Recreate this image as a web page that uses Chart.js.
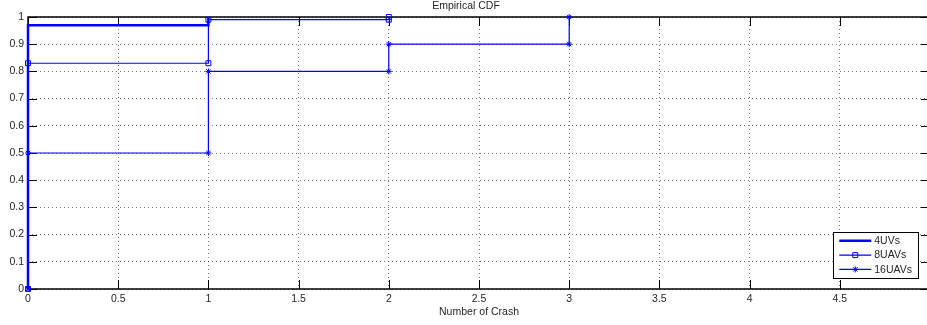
<!DOCTYPE html>
<html>
<head>
<meta charset="utf-8">
<script src="https://cdn.jsdelivr.net/npm/chart.js@4/dist/chart.umd.min.js"></script>
<style>
  html, body { margin: 0; padding: 0; background: #fff; overflow: hidden; }
  #wrap { position: relative; width: 935px; height: 325px; }
</style>
</head>
<body>
<div id="wrap"><canvas id="c" width="935" height="325"></canvas></div>
<script>
// Empirical CDF of the number of crashes, one series per fleet size.
// Each pair: crash counts where the CDF jumps, and the CDF value after the jump.
const crashes4 = [0, 1];
const cdf4 = [0.97, 1];

const crashes8 = [0, 1, 2];
const cdf8 = [0.83, 0.99, 1];

const crashes16 = [0, 1, 2, 3];
const cdf16 = [0.5, 0.8, 0.9, 1];

const seriesNames = ['4UVs', '8UAVs', '16UAVs'];

const xTickValues = [0, 0.5, 1, 1.5, 2, 2.5, 3, 3.5, 4, 4.5];
const yTickValues = [0, 0.1, 0.2, 0.3, 0.4, 0.5, 0.6, 0.7, 0.8, 0.9, 1];

const chartTitle = 'Empirical CDF';
const xTitle = 'Number of Crash';

const FONT = '"Liberation Sans", Arial, Helvetica, sans-serif';
const TEXT = '#262626';
const BLUE = '#0000ff';

// Staircase vertices: rise at each jump, then hold until the next one.
function stairs(xs, fs) {
  const pts = [];
  let prev = 0;
  xs.forEach((x, i) => {
    pts.push({ x: x, y: prev });
    pts.push({ x: x, y: fs[i] });
    prev = fs[i];
  });
  return pts;
}

// Axes box with inward tick marks on all four sides.
const framePlugin = {
  id: 'frame',
  beforeDatasetsDraw(chart) {
    const { ctx, chartArea: a, scales: { x, y } } = chart;
    const len = 9;
    ctx.save();
    ctx.strokeStyle = '#000';
    ctx.lineWidth = 1;
    ctx.beginPath();
    x.ticks.forEach(t => {
      const px = Math.round(x.getPixelForValue(t.value)) + 0.5;
      ctx.moveTo(px, a.bottom); ctx.lineTo(px, a.bottom - len);
      ctx.moveTo(px, a.top); ctx.lineTo(px, a.top + len);
    });
    y.ticks.forEach(t => {
      const py = Math.round(y.getPixelForValue(t.value)) + 0.5;
      ctx.moveTo(a.left, py); ctx.lineTo(a.left + len, py);
      ctx.moveTo(a.right, py); ctx.lineTo(a.right - len, py);
    });
    ctx.stroke();
    ctx.lineWidth = 1.5;
    ctx.strokeRect(a.left, a.top, a.right - a.left, a.bottom - a.top);
    ctx.restore();
  }
};

// Boxed legend in the lower right corner: line sample with marker, then label.
const boxLegendPlugin = {
  id: 'boxLegend',
  afterDraw(chart) {
    const { ctx, chartArea: a } = chart;
    const sets = chart.data.datasets;
    ctx.save();
    ctx.font = '10.5px ' + FONT;
    const textW = Math.max(...sets.map(d => ctx.measureText(d.label).width));
    const pad = 6, sample = 32, gap = 3, rowH = 14.3;
    const w = pad + sample + gap + textW + pad;
    const h = rowH * sets.length + 3;
    const right = 918, bottom = a.bottom - 11;
    const left = right - w, top = bottom - h;
    ctx.fillStyle = '#fff';
    ctx.fillRect(left, top, w, h);
    ctx.strokeStyle = '#000';
    ctx.lineWidth = 1;
    ctx.strokeRect(Math.round(left) + 0.5, Math.round(top) + 0.5, Math.round(w), Math.round(h));
    sets.forEach((d, i) => {
      const cy = top + 8.7 + i * rowH;
      const x0 = left + pad, x1 = x0 + sample;
      ctx.strokeStyle = d.borderColor;
      ctx.lineWidth = d.borderWidth;
      ctx.beginPath();
      ctx.moveTo(x0, cy); ctx.lineTo(x1, cy);
      ctx.stroke();
      if (d.pointRadius > 0) {
        ctx.fillStyle = d.pointBackgroundColor || 'rgba(0,0,0,0)';
        ctx.strokeStyle = d.pointBorderColor || d.borderColor;
        ctx.lineWidth = d.pointBorderWidth;
        Chart.helpers.drawPoint(ctx, {
          pointStyle: d.pointStyle,
          radius: d.pointRadius,
          borderWidth: d.pointBorderWidth,
          rotation: 0
        }, (x0 + x1) / 2, cy);
      }
      ctx.fillStyle = TEXT;
      ctx.textBaseline = 'middle';
      ctx.textAlign = 'left';
      ctx.fillText(d.label, x1 + gap, cy + 0.5);
    });
    ctx.restore();
  }
};

const gridStyle = { color: 'rgba(0,0,0,0.5)', lineWidth: 1, drawTicks: false };

new Chart(document.getElementById('c'), {
  type: 'scatter',
  data: {
    datasets: [
      {
        label: seriesNames[0],
        data: stairs(crashes4, cdf4),
        showLine: true,
        borderColor: BLUE,
        backgroundColor: BLUE,
        borderWidth: 2.5,
        pointRadius: 0,
        pointStyle: 'line',
        clip: false
      },
      {
        label: seriesNames[1],
        data: stairs(crashes8, cdf8),
        showLine: true,
        borderColor: BLUE,
        backgroundColor: 'rgba(0,0,0,0)',
        borderWidth: 1.2,
        pointStyle: 'rect',
        pointRadius: 3.5,
        pointBorderWidth: 1,
        pointBorderColor: BLUE,
        pointBackgroundColor: 'rgba(0,0,0,0)',
        clip: false
      },
      {
        label: seriesNames[2],
        data: stairs(crashes16, cdf16),
        showLine: true,
        borderColor: BLUE,
        backgroundColor: BLUE,
        borderWidth: 1.2,
        pointStyle: 'star',
        pointRadius: 3,
        pointBorderWidth: 1,
        pointBorderColor: BLUE,
        pointBackgroundColor: BLUE,
        clip: false
      }
    ]
  },
  options: {
    responsive: false,
    animation: false,
    devicePixelRatio: 1,
    layout: { padding: { left: 0, right: 3, top: 0, bottom: 0 } },
    plugins: {
      legend: { display: false },
      tooltip: { enabled: false },
      title: {
        display: true,
        text: chartTitle,
        color: TEXT,
        font: { family: FONT, size: 10.5, weight: 'normal' },
        padding: { top: 0, bottom: 4.4 }
      }
    },
    scales: {
      x: {
        type: 'linear',
        min: 0,
        max: 5,
        grid: gridStyle,
        border: { display: false, dash: [1, 3] },
        afterBuildTicks: s => { s.ticks = xTickValues.map(v => ({ value: v })); },
        afterFit: s => { s.height = 36; },
        ticks: {
          autoSkip: false,
          maxRotation: 0,
          padding: 4,
          color: TEXT,
          font: { family: FONT, size: 10.5 },
          callback: v => String(v)
        },
        title: {
          display: true,
          text: xTitle,
          color: TEXT,
          font: { family: FONT, size: 10.5 },
          padding: { top: 0, bottom: 7 }
        }
      },
      y: {
        type: 'linear',
        min: 0,
        max: 1,
        grid: gridStyle,
        border: { display: false, dash: [1, 3] },
        afterBuildTicks: s => { s.ticks = yTickValues.map(v => ({ value: v })); },
        afterFit: s => { s.width = 28; },
        ticks: {
          autoSkip: false,
          padding: 4,
          color: TEXT,
          font: { family: FONT, size: 10.5 },
          callback: v => String(v)
        }
      }
    }
  },
  plugins: [framePlugin, boxLegendPlugin]
});
</script>
</body>
</html>
